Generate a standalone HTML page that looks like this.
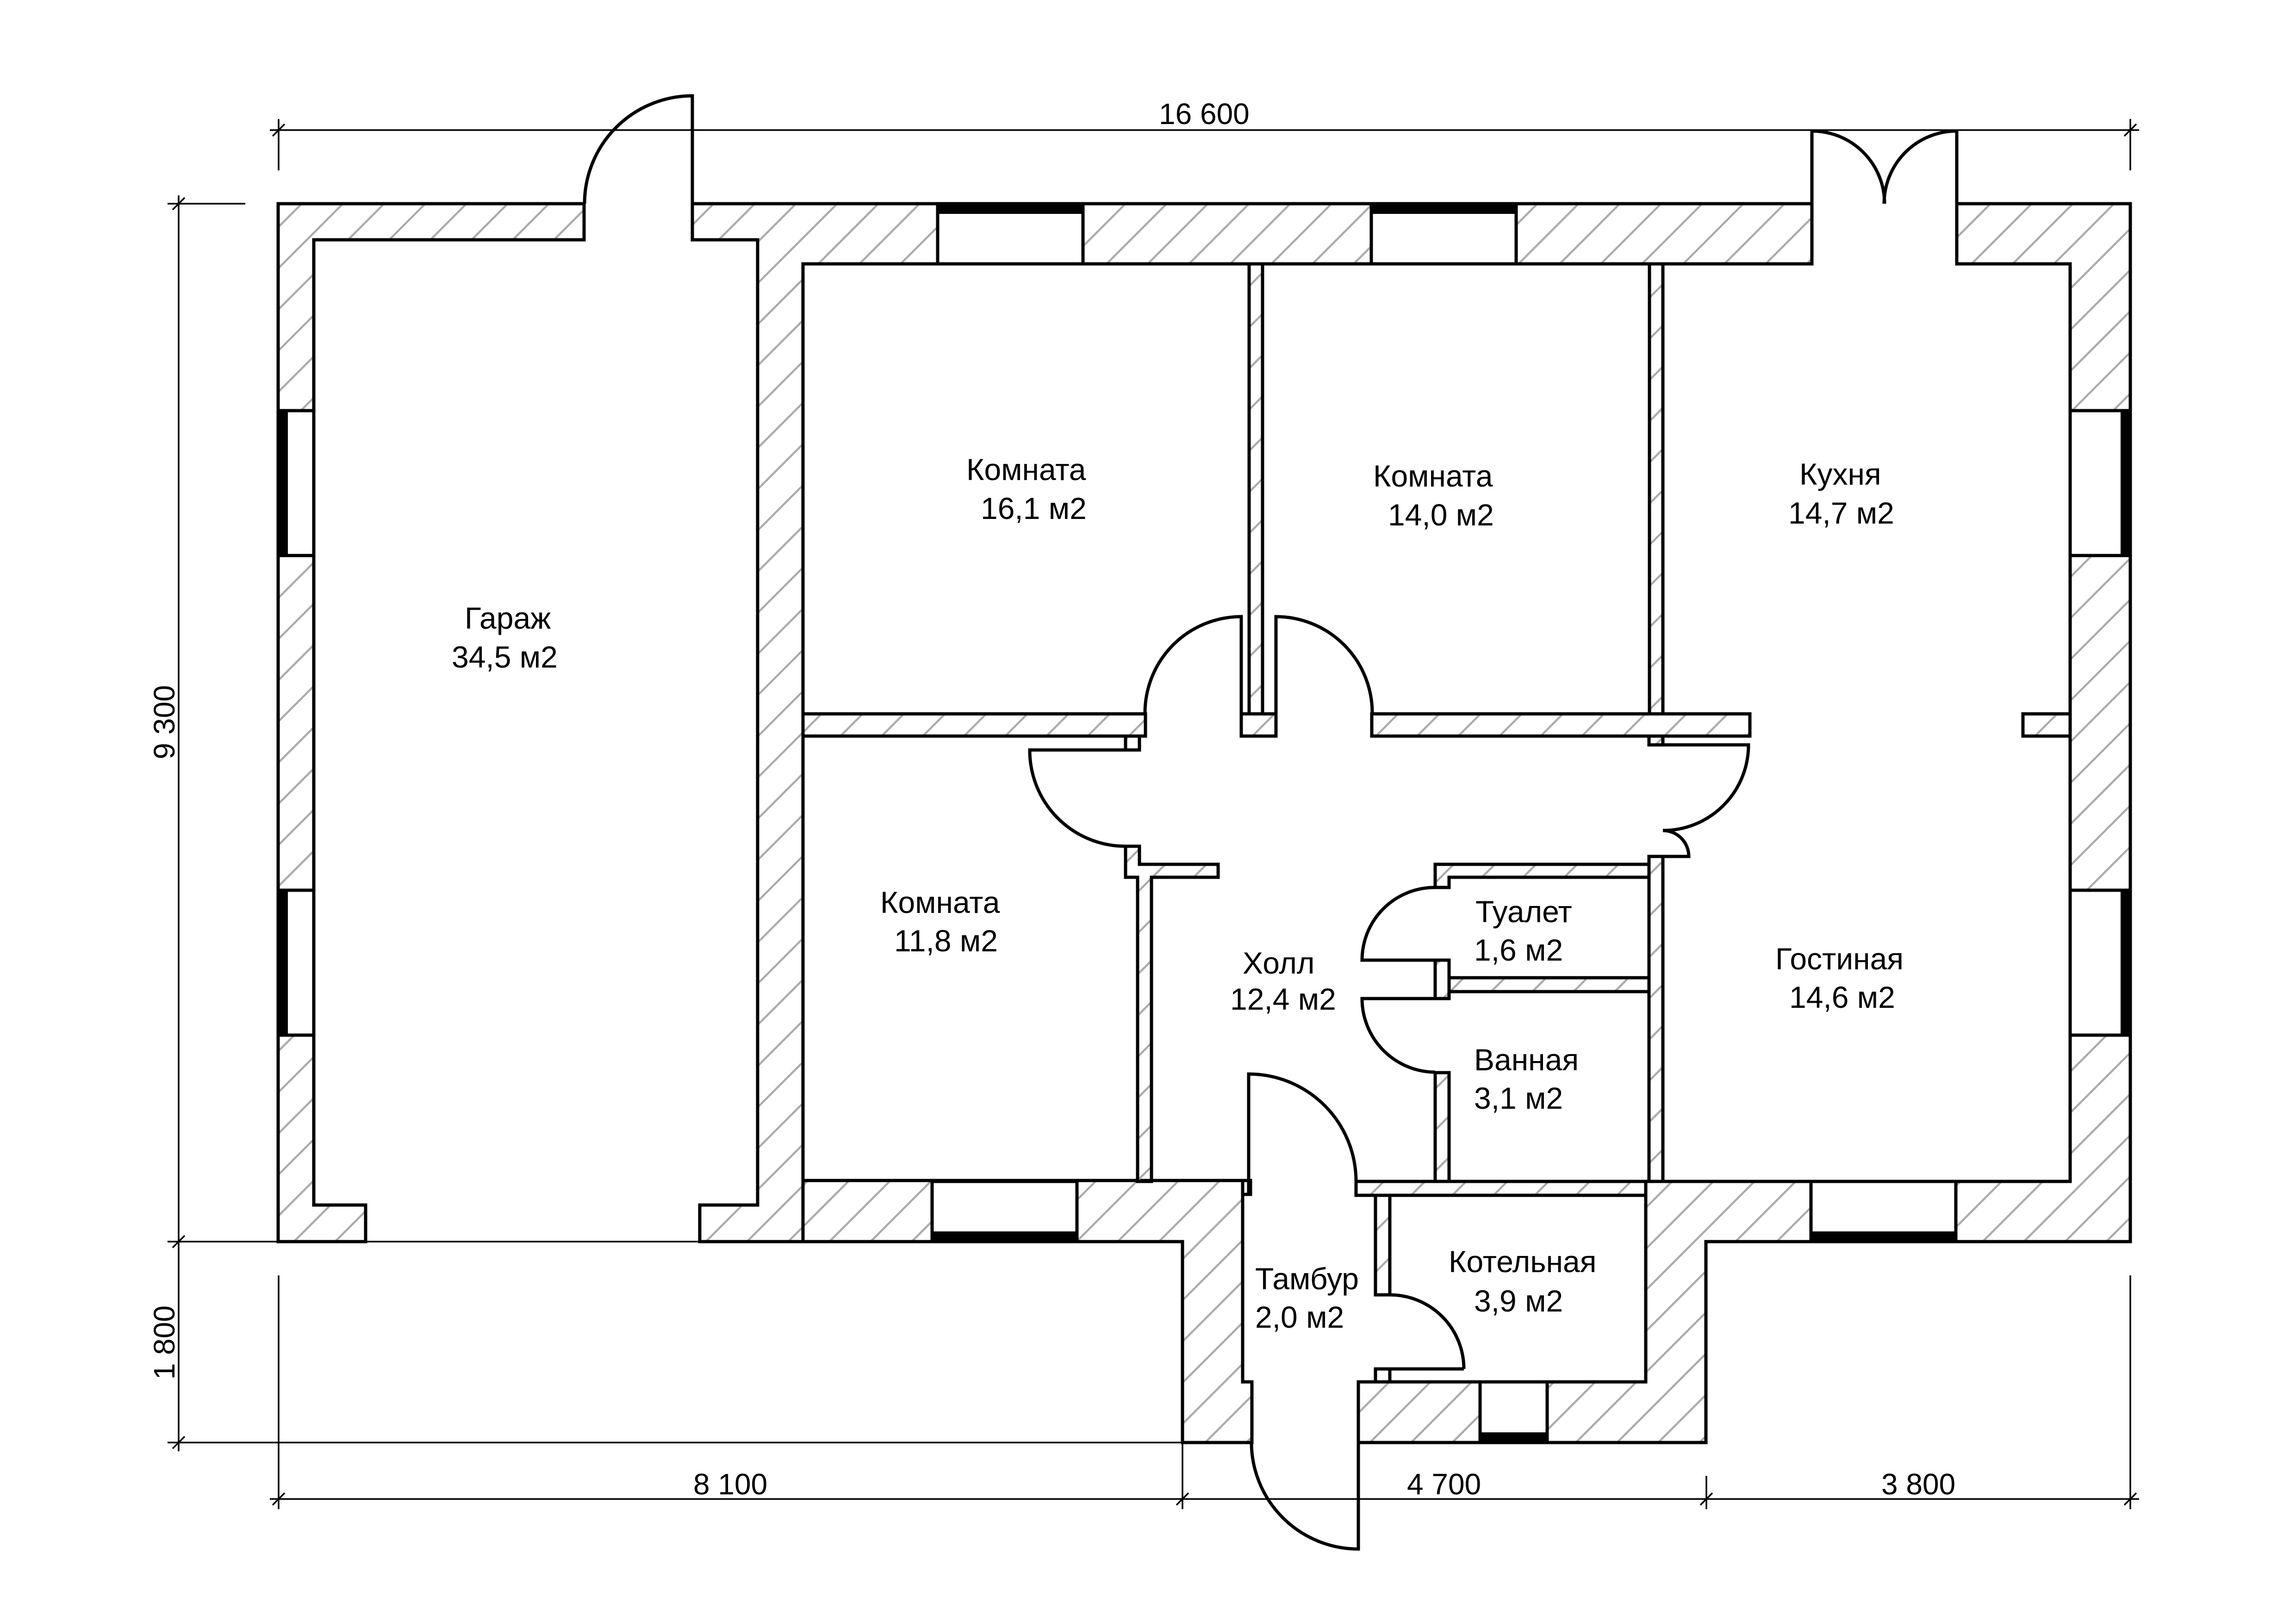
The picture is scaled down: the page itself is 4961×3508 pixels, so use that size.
<!DOCTYPE html>
<html><head><meta charset="utf-8">
<style>html,body{margin:0;padding:0;background:#fff}svg{display:block}</style>
</head><body>
<svg xmlns="http://www.w3.org/2000/svg" width="4961" height="3508" viewBox="0 0 4961 3508">
<defs>
<pattern id="h" patternUnits="userSpaceOnUse" width="89" height="89" patternTransform="translate(24,0)">
<path d="M0,89 L89,0 M-10,10 L10,-10 M79,99 L99,79" stroke="#ababab" stroke-width="4.5" fill="none"/>
</pattern>
</defs>
<rect width="4961" height="3508" fill="#fff"/>

<!-- Walls -->
<g fill="url(#h)" stroke="#000" stroke-width="7" stroke-linejoin="miter">
<path d="M601,440 L1262,440 L1262,518 L678,518 L678,2603 L790,2603 L790,2682 L601,2682 Z"/>
<path d="M1496,440 L3915,440 L3915,570 L1735,570 L1735,2550 L2685,2550 L2685,2985 L2705,2985 L2705,3116 L2555,3116 L2555,2682 L1512,2682 L1512,2603 L1637,2603 L1637,518 L1496,518 Z"/>
<path d="M4228,440 L4603,440 L4603,2682 L3686,2682 L3686,3116 L2935,3116 L2935,2985 L3556,2985 L3556,2552 L4473,2552 L4473,570 L4228,570 Z"/>
<rect x="1735" y="1542" width="740" height="48"/>
<rect x="2432" y="1590" width="30" height="30"/>
<rect x="2699" y="570" width="29" height="972"/>
<rect x="2682" y="1542" width="75" height="48"/>
<rect x="2964" y="1542" width="817" height="48"/>
<rect x="3564" y="570" width="29" height="972"/>
<rect x="3563" y="1590" width="30" height="19"/>
<rect x="4371" y="1542" width="102" height="48"/>
<rect x="3563" y="1850" width="30" height="702"/>
<path d="M3101,1867 L3563,1867 L3563,1895 L3131,1895 L3131,1917 L3101,1917 Z"/>
<rect x="3101" y="2074" width="30" height="83"/>
<rect x="3131" y="2112" width="432" height="30"/>
<rect x="3101" y="2317" width="30" height="235"/>
<path d="M2432,1828 L2462,1828 L2462,1867 L2632,1867 L2632,1895 L2488,1895 L2488,2552 L2458,2552 L2458,1895 L2432,1895 Z"/>
<rect x="2930" y="2552" width="626" height="30"/>
<rect x="2685" y="2550" width="17" height="30"/>
<rect x="2972" y="2582" width="31" height="215"/>
<rect x="2972" y="2957" width="31" height="28"/>
</g>
<line x1="1735" y1="2550" x2="1735" y2="2682" stroke="#000" stroke-width="7"/>

<!-- Windows -->
<g fill="#fff" stroke="#000" stroke-width="7">
<rect x="2026" y="440" width="314" height="130"/>
<rect x="2963" y="440" width="313" height="130"/>
<rect x="2014" y="2552" width="313" height="130"/>
<rect x="3913" y="2552" width="313" height="130"/>
<rect x="3198" y="2985" width="145" height="131"/>
<rect x="601" y="887" width="77" height="313"/>
<rect x="601" y="1923" width="77" height="313"/>
<rect x="4473" y="887" width="130" height="313"/>
<rect x="4473" y="1923" width="130" height="313"/>
</g>
<g fill="#000">
<rect x="2023" y="437" width="320" height="25"/>
<rect x="2960" y="437" width="319" height="25"/>
<rect x="2011" y="2660" width="319" height="25"/>
<rect x="3910" y="2660" width="319" height="25"/>
<rect x="3195" y="3094" width="151" height="25"/>
<rect x="598" y="884" width="24" height="319"/>
<rect x="598" y="1920" width="24" height="319"/>
<rect x="4582" y="884" width="24" height="319"/>
<rect x="4582" y="1920" width="24" height="319"/>
</g>

<!-- Doors -->
<g fill="none" stroke="#000" stroke-width="7">
<path d="M1496,518 L1496,207 A233,233 0 0 0 1263,440"/>
<path d="M3915,570 L3915,283 A157,157 0 0 1 4072,440"/>
<path d="M4228,570 L4228,283 A157,157 0 0 0 4071,440"/>
<path d="M2682,1542 L2682,1332 A208,208 0 0 0 2474,1542"/>
<path d="M2757,1542 L2757,1332 A208,208 0 0 1 2965,1542"/>
<path d="M2462,1620 L2225,1620 A207,207 0 0 0 2432,1828"/>
<path d="M3593,1609 L3778,1609 A185,185 0 0 1 3593,1794 A56,56 0 0 1 3649,1850 L3563,1850"/>
<path d="M3131,2074 L2943,2074 A157,157 0 0 1 3101,1917"/>
<path d="M3131,2157 L2943,2157 A159,159 0 0 0 3101,2316"/>
<path d="M2698,2580 L2698,2320 A232,232 0 0 1 2930,2552"/>
<path d="M3163,2957 L3003,2957 M3003,2797 A160,160 0 0 1 3163,2957"/>
<path d="M2935,2985 L2935,3346 A231,231 0 0 1 2704,3116"/>
</g>

<!-- Dimensions -->
<g fill="none" stroke="#000" stroke-width="3.5">
<line x1="583" y1="281" x2="4622" y2="281"/>
<line x1="602" y1="257" x2="602" y2="368"/>
<line x1="4603" y1="257" x2="4603" y2="368"/>
<line x1="589" y1="294" x2="615" y2="268"/>
<line x1="4590" y1="294" x2="4616" y2="268"/>

<line x1="386" y1="422" x2="386" y2="3135"/>
<line x1="362" y1="440" x2="530" y2="440"/>
<line x1="362" y1="2682" x2="2555" y2="2682"/>
<line x1="362" y1="3116" x2="2555" y2="3116"/>
<line x1="373" y1="453" x2="399" y2="427"/>
<line x1="373" y1="2695" x2="399" y2="2669"/>
<line x1="373" y1="3129" x2="399" y2="3103"/>

<line x1="583" y1="3238" x2="4622" y2="3238"/>
<line x1="602" y1="2755" x2="602" y2="3260"/>
<line x1="2555" y1="3116" x2="2555" y2="3260"/>
<line x1="3687" y1="3188" x2="3687" y2="3260"/>
<line x1="4603" y1="2755" x2="4603" y2="3260"/>
<line x1="589" y1="3251" x2="615" y2="3225"/>
<line x1="2542" y1="3251" x2="2568" y2="3225"/>
<line x1="3674" y1="3251" x2="3700" y2="3225"/>
<line x1="4590" y1="3251" x2="4616" y2="3225"/>
</g>

<!-- Labels -->
<g font-family="'Liberation Sans', 'Noto Sans CJK JP', sans-serif" font-size="66" fill="#000">
<text x="1004" y="1358">Гараж</text>
<text x="976" y="1442">34,5 м2</text>
<text x="2088" y="1037">Комната</text>
<text x="2119" y="1121">16,1 м2</text>
<text x="2967" y="1051">Комната</text>
<text x="2999" y="1135">14,0 м2</text>
<text x="3888" y="1047">Кухня</text>
<text x="3864" y="1131">14,7 м2</text>
<text x="1902" y="1972">Комната</text>
<text x="1932" y="2055">11,8 м2</text>
<text x="2685" y="2103">Холл</text>
<text x="2658" y="2181">12,4 м2</text>
<text x="3188" y="1992">Туалет</text>
<text x="3185" y="2075">1,6 м2</text>
<text x="3185" y="2312">Ванная</text>
<text x="3185" y="2395">3,1 м2</text>
<text x="3836" y="2094">Гостиная</text>
<text x="3866" y="2177">14,6 м2</text>
<text x="2712" y="2785">Тамбур</text>
<text x="2712" y="2868">2,0 м2</text>
<text x="3130" y="2748">Котельная</text>
<text x="3185" y="2833">3,9 м2</text>
</g>
<g font-family="'Liberation Sans', 'Noto Sans CJK JP', sans-serif" font-size="64" fill="#000">
<text x="2504" y="268">16 600</text>
<text x="1498" y="3228">8 100</text>
<text x="3040" y="3228">4 700</text>
<text x="4065" y="3228">3 800</text>
<text transform="translate(377,1560) rotate(-90)" text-anchor="middle">9 300</text>
<text transform="translate(377,2900) rotate(-90)" text-anchor="middle">1 800</text>
</g>
</svg>
</body></html>
